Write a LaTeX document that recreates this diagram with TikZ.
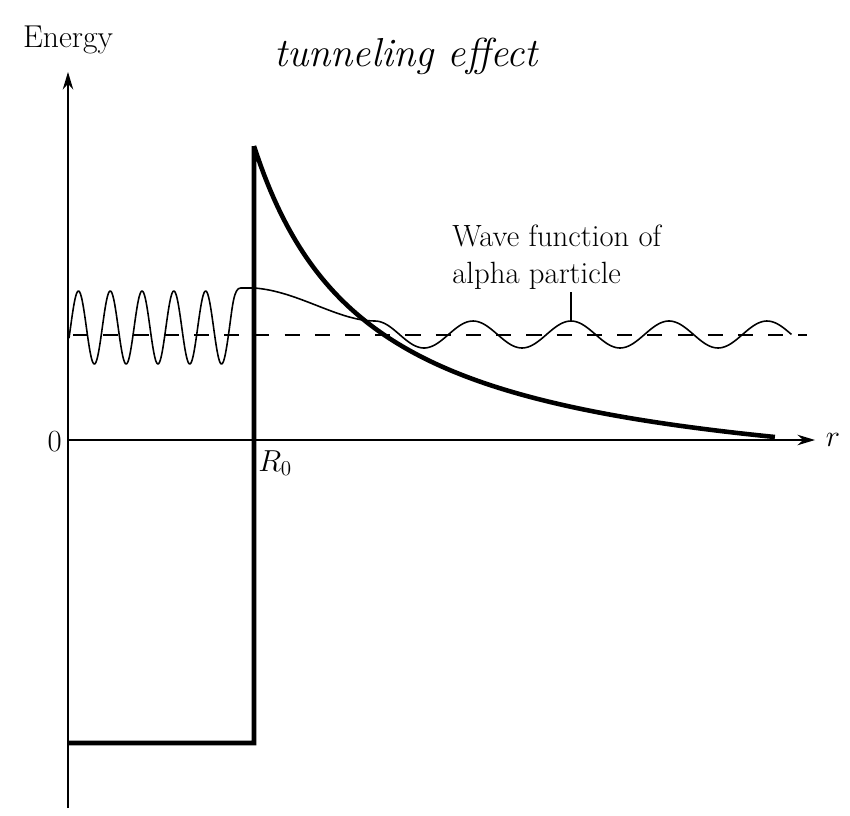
\documentclass[tikz,border=0pt]{standalone}
\usepackage{amsmath,amssymb}
\usetikzlibrary{arrows.meta, positioning, calc}

\begin{document}
\begin{tikzpicture}[
  every node/.style={text=black, font=\fontsize{17.5}{21}\selectfont},
  axis/.style={line width=0.7pt, -{Stealth[length=10pt, width=6pt]}},
  potential/.style={line width=2.6pt, line join=miter},
  wavefn/.style={line width=0.9pt, line join=round},
  level/.style={line width=0.9pt, dash pattern=on 8.6pt off 8.6pt},
]

% Frame
\useasboundingbox (-1.36,-7.5) rectangle (15.64,8.8);

% Axes
\coordinate (O) at (0,0);
\coordinate (ebot) at (0,-7.36);
\coordinate (etop) at (0,7.36);
\coordinate (rend) at (14.94,0);
\draw[axis] (ebot) -- (etop);
\draw[axis] (O) -- (rend);
\node[anchor=base, font=\fontsize{18}{22}\selectfont] (energy) at (0,7.86) {Energy};
\node[right=6pt of rend, inner sep=0] (rlbl) {$r$};
\node[anchor=east, inner sep=0] (zero) at (-0.12,-0.04) {0};
\node[anchor=north west, inner sep=0] (rzero) at (3.8,-0.2) {$R_0$};

% Title (handwritten)
\node[font=\fontsize{23}{27}\selectfont\itshape] (title) at (6.76,7.68) {tunneling effect};

% Potential: well, wall and Coulomb barrier
\coordinate (wellL) at (0,-6.06);
\coordinate (wellR) at (3.72,-6.06);
\coordinate (wallT) at (3.72,5.88);
\draw[potential] (wellL) -- (wellR) -- (wallT)
  -- plot[domain=3.72:14.14, samples=160] (\x, {16.24/(\x-1.432)-1.218});

% Energy level of the alpha particle
\coordinate (lvlL) at (0.1,2.1);
\coordinate (lvlR) at (14.78,2.1);
\draw[level] (lvlL) -- (lvlR);

% Wave function: inside, through the barrier, outside
\draw[wavefn]
  plot[domain=0.02:3.23, samples=240] (\x, {2.25+0.73*sin(360*(\x-0.05)/0.636)})
  .. controls (3.29,2.69) and (3.32,3.04) .. (3.45,3.04)
  -- (3.72,3.04)
  .. controls (4.6,2.98) and (5.4,2.38) .. (6.14,2.38)
  -- plot[domain=6.14:14.47, samples=200] (\x, {2.11+0.27*cos(360*(\x-8.1)/1.96)});

% Label
\node[anchor=north west, inner sep=0, align=left] (wlbl) at (7.68,4.3)
  {Wave function of\\alpha particle};
\coordinate (lead) at (10.06,2.96);
\coordinate (peak) at (10.06,2.38);
\draw[line width=0.7pt] (lead) -- (peak);

\end{tikzpicture}
\end{document}
